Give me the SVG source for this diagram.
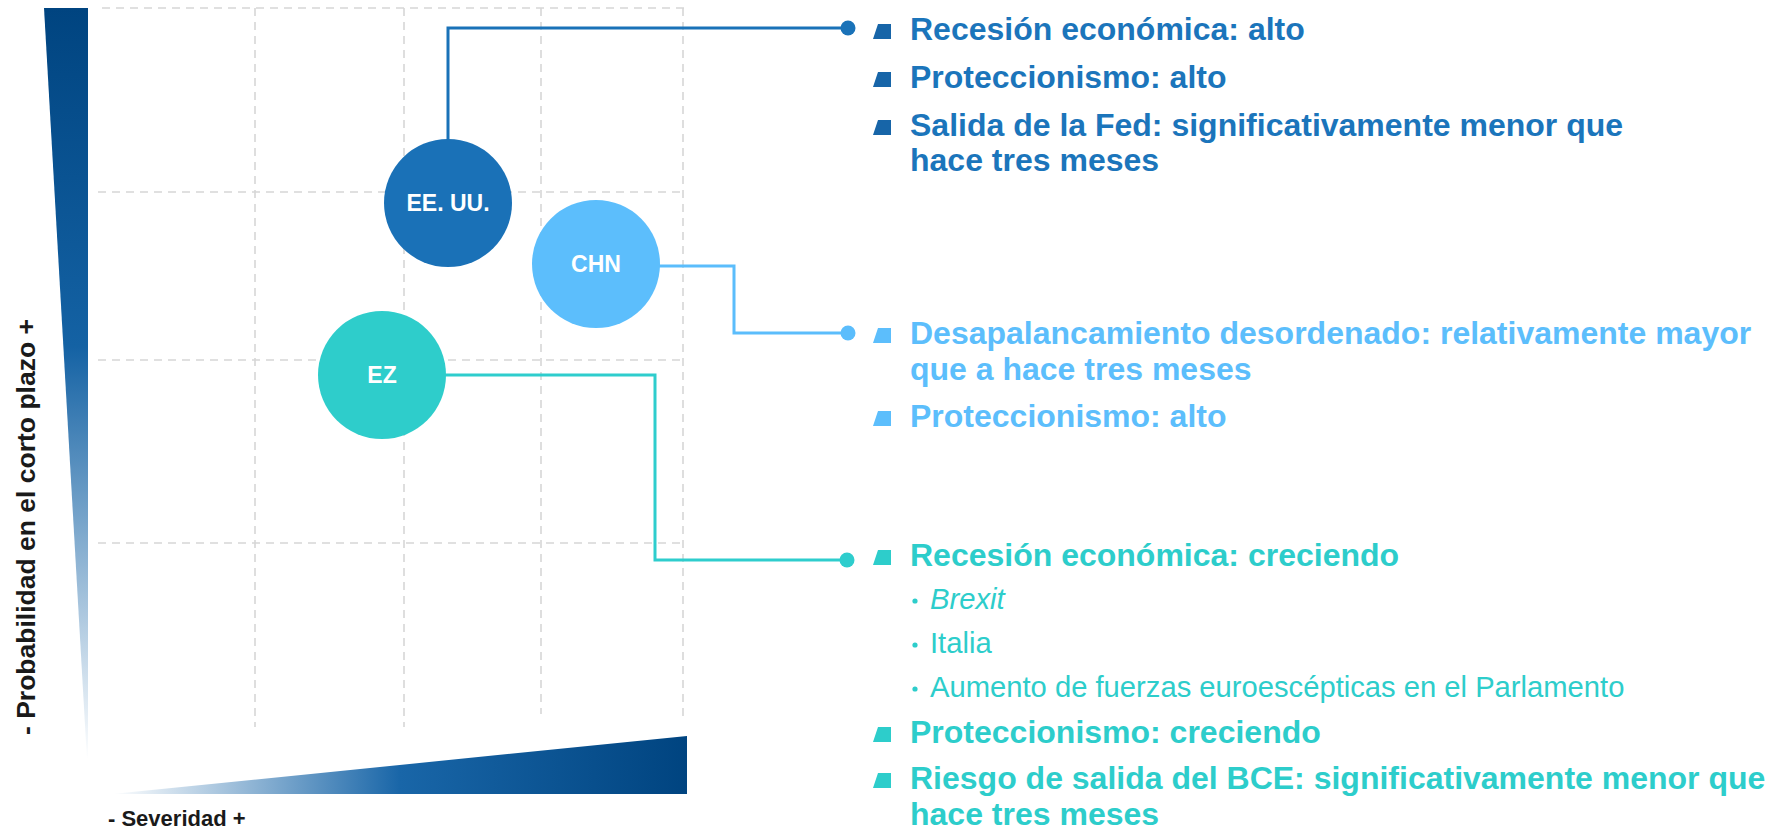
<svg xmlns="http://www.w3.org/2000/svg" width="1781" height="829" viewBox="0 0 1781 829">
<defs>
<linearGradient id="gv" x1="0" y1="0" x2="0" y2="1">
<stop offset="0" stop-color="#004480"/>
<stop offset="0.45" stop-color="#1462a4"/>
<stop offset="1" stop-color="#ffffff"/>
</linearGradient>
<linearGradient id="gh" x1="0" y1="0" x2="1" y2="0">
<stop offset="0" stop-color="#ffffff"/>
<stop offset="0.5" stop-color="#1966a8"/>
<stop offset="1" stop-color="#004480"/>
</linearGradient>
<style>
.grid{stroke:#d6d6d6;stroke-width:1.6;stroke-dasharray:8 6;fill:none}
.lbl{font-family:"Liberation Sans",Arial,sans-serif;font-weight:bold;fill:#1a1a1a;font-size:26.5px}
.node text{font-family:"Liberation Sans",Arial,sans-serif;font-weight:bold;fill:#ffffff;font-size:23px;text-anchor:middle}
.t{font-family:"Liberation Sans",Arial,sans-serif;font-weight:bold;font-size:32px}
.s{font-family:"Liberation Sans",Arial,sans-serif;font-size:29.2px}
.us{fill:#1b75bb}.cn{fill:#5cbefc}.ez{fill:#2dcdcb}
.usm{fill:#1765a8}
.con{fill:none;stroke-width:3}
</style>
</defs>
<rect width="1781" height="829" fill="#ffffff"/>
<g id="axes">
<polygon points="44,8 88,8 88,760 87,760" fill="url(#gv)"/>
<polygon points="112,794 687,736 687,794" fill="url(#gh)"/>
<text class="lbl" transform="translate(35,735) rotate(-90)">- Probabilidad en el corto plazo +</text>
<text class="lbl" x="108" y="826" style="font-size:22px">- Severidad +</text>
</g>
<g id="grid">
<line class="grid" x1="102" y1="8" x2="684" y2="8"/>
<line class="grid" x1="98" y1="192" x2="684" y2="192"/>
<line class="grid" x1="98" y1="360" x2="684" y2="360"/>
<line class="grid" x1="98" y1="543" x2="684" y2="543"/>
<line class="grid" x1="255" y1="8" x2="255" y2="727"/>
<line class="grid" x1="404" y1="8" x2="404" y2="727"/>
<line class="grid" x1="541" y1="8" x2="541" y2="714"/>
<line class="grid" x1="683" y1="8" x2="683" y2="722"/>
</g>
<g id="connectors">
<polyline class="con" stroke="#1a72b8" points="448,140 448,28 848,28"/>
<circle cx="848" cy="28" r="7.5" fill="#1a72b8"/>
<polyline class="con" stroke="#5bbdfc" points="659,266 734,266 734,333 848,333"/>
<circle cx="848" cy="333" r="7.5" fill="#5bbdfc"/>
<polyline class="con" stroke="#2ecdcd" points="445,375 655,375 655,560 847,560"/>
<circle cx="847" cy="560" r="7.5" fill="#2ecdcd"/>
</g>
<g id="node-us" class="node">
<circle cx="448" cy="203" r="64" fill="#1a71b7"/>
<text x="448" y="211">EE. UU.</text>
</g>
<g id="node-chn" class="node">
<circle cx="596" cy="264" r="64" fill="#5cbefc"/>
<text x="596" y="272">CHN</text>
</g>
<g id="node-ez" class="node">
<circle cx="382" cy="375" r="64" fill="#2ecdcb"/>
<text x="382" y="383">EZ</text>
</g>
<g id="list-us">
<polygon class="usm" points="878,24 891,24 891,39 873,39"/>
<text class="t us" x="910" y="40">Recesión económica: alto</text>
<polygon class="usm" points="878,72 891,72 891,87 873,87"/>
<text class="t us" x="910" y="88">Proteccionismo: alto</text>
<polygon class="usm" points="878,120 891,120 891,135 873,135"/>
<text class="t us" x="910" y="136">Salida de la Fed: significativamente menor que</text>
<text class="t us" x="910" y="171">hace tres meses</text>
</g>
<g id="list-chn">
<polygon class="cn" points="878,328 891,328 891,343 873,343"/>
<text class="t cn" x="910" y="344">Desapalancamiento desordenado: relativamente mayor</text>
<text class="t cn" x="910" y="380">que a hace tres meses</text>
<polygon class="cn" points="878,411 891,411 891,426 873,426"/>
<text class="t cn" x="910" y="427">Proteccionismo: alto</text>
</g>
<g id="list-ez">
<polygon class="ez" points="878,550 891,550 891,565 873,565"/>
<text class="t ez" x="910" y="566">Recesión económica: creciendo</text>
<circle class="ez" cx="915" cy="601" r="2.6"/>
<text class="s ez" x="930" y="609" font-style="italic">Brexit</text>
<circle class="ez" cx="915" cy="645" r="2.6"/>
<text class="s ez" x="930" y="653">Italia</text>
<circle class="ez" cx="915" cy="689" r="2.6"/>
<text class="s ez" x="930" y="697">Aumento de fuerzas euroescépticas en el Parlamento</text>
<polygon class="ez" points="878,727 891,727 891,742 873,742"/>
<text class="t ez" x="910" y="743">Proteccionismo: creciendo</text>
<polygon class="ez" points="878,773 891,773 891,788 873,788"/>
<text class="t ez" x="910" y="789">Riesgo de salida del BCE: significativamente menor que</text>
<text class="t ez" x="910" y="825">hace tres meses</text>
</g>
</svg>
